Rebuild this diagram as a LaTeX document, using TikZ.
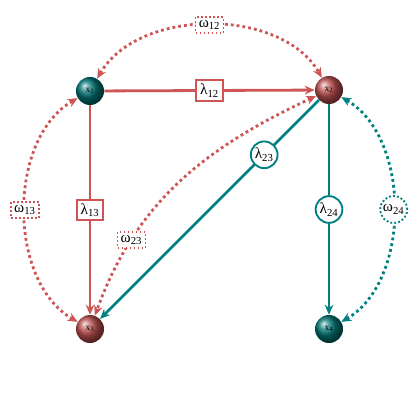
\documentclass[tikz,border=0pt]{standalone}
\usepackage{fontspec}
\newfontfamily\grk{Liberation Serif}
\usetikzlibrary{arrows.meta,shapes.geometric}
\definecolor{myred}{RGB}{205,85,85}
\definecolor{myteal}{RGB}{0,128,128}
\begin{document}
\begin{tikzpicture}[x=0.75pt,y=-0.75pt,
  ballnode/.style={circle,minimum size=21pt,inner sep=0pt,text=black,font=\grk\scriptsize},
  redball/.style={ballnode,ball color=myred!92!black},
  tealball/.style={ballnode,ball color=myteal!90!black},
  tip/.style={-{Stealth[length=7.5pt,width=6.5pt]}},
  solidred/.style={draw=myred,line width=2.1pt,tip},
  solidteal/.style={draw=myteal,line width=2.1pt,tip},
  dotred/.style={draw=myred,line width=2.1pt,dash pattern=on 2.1pt off 2.3pt,{Stealth[length=7.5pt,width=6.5pt]}-{Stealth[length=7.5pt,width=6.5pt]}},
  dotteal/.style={draw=myteal,line width=2.1pt,dash pattern=on 2.1pt off 2.3pt,{Stealth[length=7.5pt,width=6.5pt]}-{Stealth[length=7.5pt,width=6.5pt]}},
  lbl/.style={fill=white,text=black,font=\grk\fontsize{11.5}{13}\selectfont},
  lbox/.style={lbl,rectangle,draw=myred,line width=1.4pt,inner sep=2.8pt,solid},
  lcirc/.style={lbl,circle,draw=myteal,line width=1.4pt,inner sep=1pt,solid},
  wbox/.style={lbl,rectangle,draw=myred,line width=1.4pt,inner sep=2.4pt,dash pattern=on 1.4pt off 1.6pt},
  wcirc/.style={lbl,circle,draw=myteal,line width=1.4pt,inner sep=1pt,dash pattern=on 1.4pt off 1.6pt}
]
\useasboundingbox (0,0) rectangle (420,420);
\node[tealball] (x1) at (90,91) {x\textsubscript{1}};
\node[redball] (x2) at (329,90) {x\textsubscript{2}};
\node[redball] (x3) at (90,329) {x\textsubscript{3}};
\node[tealball] (x4) at (329,329) {x\textsubscript{4}};

\draw[solidred] (x1) -- node[lbox] (l12) {λ\textsubscript{12}} (x2);
\draw[solidred] (x1) -- node[lbox] (l13) {λ\textsubscript{13}} (x3);
\draw[solidteal] (x2) -- node[lcirc,pos=0.25] (l23) {λ\textsubscript{23}} (x3);
\draw[solidteal] (x2) -- node[lcirc] (l24) {λ\textsubscript{24}} (x4);

\draw[dotred] (x1) to[out=60,in=120,looseness=0.93] node[wbox] (w12) {ω\textsubscript{12}} (x2);
\draw[dotred] (x1) to[out=210,in=150,looseness=0.93] node[wbox] (w13) {ω\textsubscript{13}} (x3);
\draw[dotred] (x2) to[out=205,in=70,looseness=1] node[wbox,pos=0.75] (w23) {ω\textsubscript{23}} (x3);
\draw[dotteal] (x4) to[out=30,in=-30,looseness=0.92] node[wcirc] (w24) {ω\textsubscript{24}} (x2);
\end{tikzpicture}
\end{document}
